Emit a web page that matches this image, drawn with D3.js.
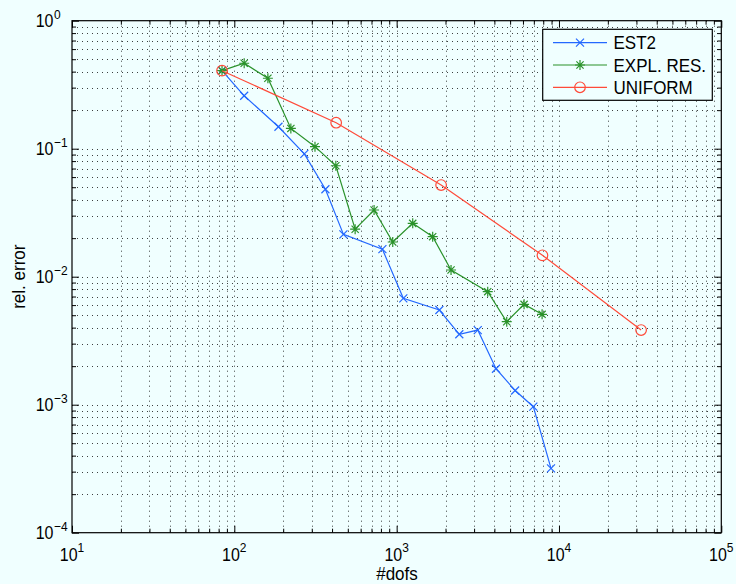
<!DOCTYPE html>
<html><head><meta charset="utf-8">
<script src="https://cdn.jsdelivr.net/npm/d3@7/dist/d3.min.js"></script>
<style>
html,body{margin:0;padding:0;background:#f0ffff;}
svg{display:block;font-family:"Liberation Sans",Arial,Helvetica,sans-serif;}
</style></head>
<body><svg id="chart" width="736" height="584"></svg>
<script>
// ---- data ----
const est2Dofs = [84, 115, 187, 270, 364, 470, 817, 1099, 1833, 2432, 3160, 4093, 5370, 6950, 8930];
const est2Err  = [0.407, 0.259, 0.1485, 0.091, 0.0482, 0.0214, 0.0164, 0.00678, 0.00549, 0.00355, 0.00383, 0.00191, 0.00129, 0.000965, 0.000318];
const explDofs = [84, 115, 161, 223, 314, 422, 555, 726, 946, 1256, 1667, 2163, 3640, 4766, 6095, 7870];
const explErr  = [0.407, 0.465, 0.355, 0.144, 0.1037, 0.0736, 0.0235, 0.0332, 0.01866, 0.0261, 0.02054, 0.01128, 0.00764, 0.00445, 0.00608, 0.00508];
const unifDofs = [84, 424, 1879, 7910, 32060];
const unifErr  = [0.407, 0.1596, 0.052, 0.01469, 0.00383];
const seriesNames = ["EST2", "EXPL. RES.", "UNIFORM"];
const xTickExps = [1, 2, 3, 4, 5];
const yTickExps = [0, -1, -2, -3, -4];
const xLabel = "#dofs";
const yLabel = "rel. error";

const colors = ["#2468ff", "#2a922a", "#ff4b3a"];
const markers = ["x", "star", "circle"];
const SY = 1.1; // vertical stretch of text

const svg = d3.select("#chart");
const L = 72, R = 721.3, T = 20.7, B = 532.7;
const x = d3.scaleLog().domain([10, 1e5]).range([L, R]);
const y = d3.scaleLog().domain([1e-4, 1]).range([B, T]);

function txt(px, py, size, anchor, s, extra) {
  return svg.append("text").attr("transform", `translate(${px},${py}) ${extra || ""} scale(1,${SY})`)
    .attr("text-anchor", anchor).attr("font-size", size).attr("fill", "#000").text(s);
}

// grid values
const xMajor = xTickExps.map(e => Math.pow(10, e));
const yMajor = yTickExps.map(e => Math.pow(10, e));
const minorOf = (lo, hi) => { const out = []; for (let e = lo; e < hi; e++) for (let m = 2; m <= 9; m++) out.push(m * Math.pow(10, e)); return out; };
const xMinor = minorOf(1, 5);
const yMinor = minorOf(-4, 0);

const grid = svg.append("g").attr("stroke", "#000").attr("stroke-width", 1).attr("stroke-dasharray", "1,4").attr("opacity", 0.75);
grid.selectAll("line.vx").data(xMinor.concat(xMajor.slice(1, -1))).enter().append("line")
  .attr("x1", d => Math.round(x(d)) + 0.5).attr("x2", d => Math.round(x(d)) + 0.5).attr("y1", T).attr("y2", B);
grid.selectAll("line.hy").data(yMinor.concat(yMajor.slice(1, -1))).enter().append("line")
  .attr("y1", d => Math.round(y(d)) + 0.5).attr("y2", d => Math.round(y(d)) + 0.5).attr("x1", L).attr("x2", R);

// axes ticks (inward) on all four sides
function addAxis(gen, scale, vals, size, tr) {
  const g = svg.append("g").attr("transform", tr)
    .call(gen(scale).tickValues(vals).tickSize(size).tickFormat(""));
  g.select(".domain").remove();
  g.selectAll("line").attr("stroke", "#000");
}
addAxis(d3.axisBottom, x, xMajor, -7, `translate(0,${B})`);
addAxis(d3.axisBottom, x, xMinor, -4, `translate(0,${B})`);
addAxis(d3.axisTop, x, xMajor, -7, `translate(0,${T})`);
addAxis(d3.axisTop, x, xMinor, -4, `translate(0,${T})`);
addAxis(d3.axisLeft, y, yMajor, -7, `translate(${L},0)`);
addAxis(d3.axisLeft, y, yMinor, -4, `translate(${L},0)`);
addAxis(d3.axisRight, y, yMajor, -7, `translate(${R},0)`);
addAxis(d3.axisRight, y, yMinor, -4, `translate(${R},0)`);

svg.append("rect").attr("x", L).attr("y", T).attr("width", R - L).attr("height", B - T)
  .attr("fill", "none").attr("stroke", "#000").attr("stroke-width", 1.2);

// tick labels
xTickExps.forEach(e => {
  const t = txt(x(Math.pow(10, e)), 560.5, 16, "middle", null);
  t.append("tspan").text("10");
  t.append("tspan").attr("font-size", 12).attr("dy", -8).text(String(e));
});
yTickExps.forEach(e => {
  const yy = y(Math.pow(10, e));
  txt(53.5, yy + 6, 16, "end", "10");
  txt(54, yy - 2, 12, "start", e === 0 ? "0" : "\u2212" + (-e));
});

txt(397, 580, 17, "middle", xLabel);
txt(25, (T + B) / 2, 17, "middle", yLabel, "rotate(-90)");

// markers
function drawMarker(g, type, cx, cy, color) {
  if (type === "x") {
    const s = 4;
    g.append("path").attr("d", `M${cx - s},${cy - s}L${cx + s},${cy + s}M${cx - s},${cy + s}L${cx + s},${cy - s}`)
      .attr("stroke", color).attr("stroke-width", 1.2).attr("fill", "none");
  } else if (type === "star") {
    const s = 5, d = 3.6;
    g.append("path").attr("d", `M${cx - s},${cy}L${cx + s},${cy}M${cx},${cy - s}L${cx},${cy + s}M${cx - d},${cy - d}L${cx + d},${cy + d}M${cx - d},${cy + d}L${cx + d},${cy - d}`)
      .attr("stroke", color).attr("stroke-width", 1.2).attr("fill", "none");
  } else {
    g.append("circle").attr("cx", cx).attr("cy", cy).attr("r", 5.3)
      .attr("stroke", color).attr("stroke-width", 1.2).attr("fill", "none");
  }
}

const series = [
  { dofs: est2Dofs, err: est2Err },
  { dofs: explDofs, err: explErr },
  { dofs: unifDofs, err: unifErr }
];
const line = d3.line().x(d => x(d[0])).y(d => y(d[1]));
series.forEach((s, i) => {
  const pts = s.dofs.map((d, k) => [d, s.err[k]]);
  const g = svg.append("g");
  g.append("path").attr("d", line(pts)).attr("fill", "none").attr("stroke", colors[i]).attr("stroke-width", 1.2);
  pts.forEach(p => drawMarker(g, markers[i], x(p[0]), y(p[1]), colors[i]));
});

// legend
const lg = svg.append("g");
lg.append("rect").attr("x", 542.7).attr("y", 29.3).attr("width", 169.6).attr("height", 71)
  .attr("fill", "#f0ffff").attr("stroke", "#000").attr("stroke-width", 1.2);
const rowY = [42.7, 65, 87.3];
seriesNames.forEach((n, i) => {
  lg.append("line").attr("x1", 553).attr("x2", 607).attr("y1", rowY[i]).attr("y2", rowY[i])
    .attr("stroke", colors[i]).attr("stroke-width", 1.2);
  drawMarker(lg, markers[i], 580, rowY[i], colors[i]);
  lg.append("text").attr("transform", `translate(613.5,${rowY[i] + 6.5}) scale(1,${SY})`)
    .attr("font-size", 17).attr("fill", "#000").text(n);
});
</script></body></html>
